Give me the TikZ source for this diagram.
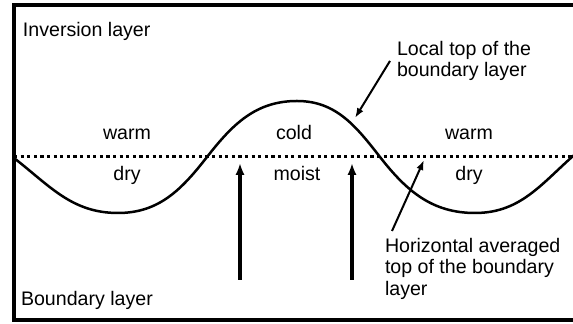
\documentclass[tikz,border=0pt]{standalone}
\usepackage{fontspec}
\setmainfont{Liberation Sans}
\usetikzlibrary{arrows.meta,positioning}

\tikzset{
  lbl/.style={inner sep=3.3pt,align=left},
  updraft/.style={line width=2pt,-{Latex[length=6pt,width=4.6pt]}},
  leader/.style={line width=1pt,-{Latex[length=5pt,width=3.6pt]}}
}

\begin{document}
\begin{tikzpicture}[x=0.5pt,y=-0.5pt,font=\fontsize{9.8}{10.8}\selectfont]
  \useasboundingbox (0,0) rectangle (573,324);
  \clip (0,0) rectangle (573,324);
  % frame, open to the right
  \draw[line width=1.75pt] (600,5) -- (14,5) -- (14,320) -- (600,320);
  % mean top of the boundary layer
  \draw[line width=1.5pt,dash pattern=on 1.6pt off 1.7pt] (14,157) -- (580,157);
  % local top of the boundary layer
  \draw[line width=1.25pt] (14,158) to[out=-38,in=180] (118,213)
    to[out=0,in=-128] (207,157) to[out=52,in=180] (297,101)
    to[out=0,in=128] (380,157) to[out=-52,in=180] (475,213)
    to[out=0,in=-140] (580,150);

  \node[lbl,anchor=base west] (inv) at (16,37) {Inversion layer};
  \node[lbl,anchor=base west] (bound) at (14,306) {Boundary layer};
  \node[lbl,anchor=base] (warmL) at (127,140) {warm};
  \node[lbl,anchor=base] (cold) at (294,140) {cold};
  \node[lbl,anchor=base] (warmR) at (469,140) {warm};
  \node[lbl,anchor=base] (dryL) at (127,181) {dry};
  \node[lbl,anchor=base] (moist) at (297,181) {moist};
  \node[lbl,anchor=base] (dryR) at (469,181) {dry};
  \node[lbl,anchor=north west] (local) at (390,34) {Local top of the\\boundary layer};
  \node[lbl,anchor=north west] (horiz) at (378,231) {Horizontal averaged\\top of the boundary\\layer};

  \coordinate (upLa) at (240,280);
  \coordinate (upLb) at (240,163);
  \coordinate (upRa) at (352,280);
  \coordinate (upRb) at (352,163);
  \coordinate (localTip) at (355,118);
  \coordinate (horizTip) at (424,160);

  \draw[updraft] (upLa) -- (upLb);
  \draw[updraft] (upRa) -- (upRb);
  \draw[leader] (local.west) -- (localTip);
  \draw[leader] ([xshift=7pt]horiz.north west) -- (horizTip);
\end{tikzpicture}
\end{document}
